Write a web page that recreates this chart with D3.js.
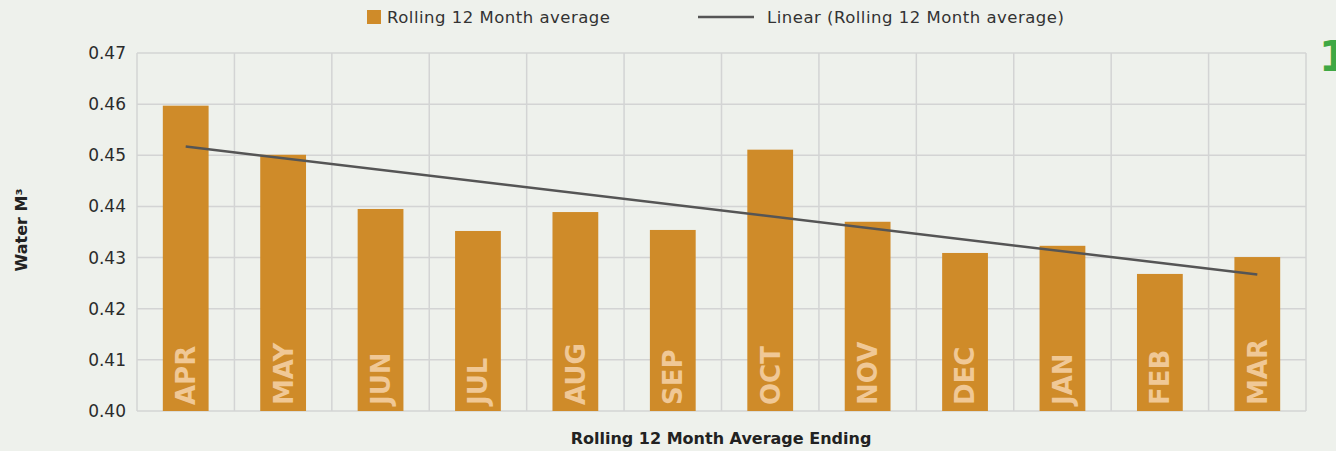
<!DOCTYPE html>
<html>
<head>
<meta charset="utf-8">
<script src="https://cdn.jsdelivr.net/npm/d3@7"></script>
<style>
  body { margin: 0; background: #eef1ec; }
  svg { display: block; font-family: "DejaVu Sans", sans-serif; }
</style>
</head>
<body>
<div id="chart"></div>
<script>
// data
var months = ["APR", "MAY", "JUN", "JUL", "AUG", "SEP", "OCT", "NOV", "DEC", "JAN", "FEB", "MAR"];
var rolling = [0.4597, 0.4501, 0.4395, 0.4352, 0.4389, 0.4354, 0.4511, 0.4370, 0.4309, 0.4323, 0.4268, 0.4301];
// linear trend as drawn in the original (first and last month)
var trendEnds = [0.4517, 0.4267];
var yTicks = [0.40, 0.41, 0.42, 0.43, 0.44, 0.45, 0.46, 0.47];

var w = 1336, h = 451;
var plotL = 137, plotR = 1306, plotT = 53, plotB = 411;

var svg = d3.select('#chart').append('svg')
  .attr('width', w)
  .attr('height', h);

svg.append('rect').attr('width', w).attr('height', h).attr('fill', '#eef1ec');

var x = d3.scaleBand().domain(months).range([plotL, plotR]).paddingInner(0.53).paddingOuter(0.265);
var xg = d3.scaleBand().domain(months).range([plotL, plotR]);
var y = d3.scaleLinear().domain([0.40, 0.47]).range([plotB, plotT]);

// grid
svg.append('g').selectAll('line')
  .data(yTicks).enter().append('line')
  .attr('x1', plotL).attr('x2', plotR)
  .attr('y1', function(d) { return y(d); })
  .attr('y2', function(d) { return y(d); })
  .style('stroke', '#d3d4d4').style('stroke-width', 1.5);

var vx = months.map(function(m) { return xg(m); }).concat([plotR]);
svg.append('g').selectAll('line')
  .data(vx).enter().append('line')
  .attr('x1', function(d) { return d; }).attr('x2', function(d) { return d; })
  .attr('y1', plotT).attr('y2', plotB)
  .style('stroke', '#d3d4d4').style('stroke-width', 1.5);

// y axis labels
var yAxis = d3.axisLeft(y).tickValues(yTicks).tickFormat(d3.format('.2f')).tickSize(0).tickPadding(11);
var ya = svg.append('g').attr('transform', 'translate(' + plotL + ',0)').call(yAxis);
ya.select('.domain').remove();
ya.selectAll('text').style('font-size', '17px').style('fill', '#2b2b2b')
  .style('font-family', '"DejaVu Sans", sans-serif');

// bars
svg.append('g').selectAll('rect')
  .data(rolling).enter().append('rect')
  .attr('x', function(d, i) { return x(months[i]); })
  .attr('width', x.bandwidth())
  .attr('y', function(d) { return y(d); })
  .attr('height', function(d) { return plotB - y(d); })
  .style('fill', '#cf8b29');

// month labels inside bars
svg.append('g').selectAll('text')
  .data(months).enter().append('text')
  .attr('transform', function(d) {
    return 'translate(' + (x(d) + x.bandwidth() / 2) + ',' + (plotB - 6) + ') rotate(-90)';
  })
  .attr('dy', '0.36em')
  .style('font-size', '26px').style('font-weight', 'bold')
  .style('fill', '#f0c896')
  .text(function(d) { return d; });

// linear trend line
var trend = [0, months.length - 1].map(function(i, k) {
  return [x(months[i]) + x.bandwidth() / 2, y(trendEnds[k])];
});
svg.append('path')
  .attr('d', d3.line()(trend))
  .style('fill', 'none').style('stroke', '#555555').style('stroke-width', 2.5);

// legend
svg.append('rect').attr('x', 367).attr('y', 10).attr('width', 14).attr('height', 14).style('fill', '#cf8b29');
svg.append('text').attr('x', 387).attr('y', 23).style('font-size', '16.5px').style('fill', '#333')
  .style('letter-spacing', '0.5px')
  .text('Rolling 12 Month average');
svg.append('line').attr('x1', 698).attr('x2', 754).attr('y1', 17).attr('y2', 17)
  .style('stroke', '#555555').style('stroke-width', 2.5);
svg.append('text').attr('x', 767).attr('y', 23).style('font-size', '16.5px').style('fill', '#333')
  .style('letter-spacing', '0.5px')
  .text('Linear (Rolling 12 Month average)');

// axis titles
svg.append('text')
  .attr('transform', 'translate(27,230) rotate(-90)')
  .attr('text-anchor', 'middle')
  .style('font-size', '16px').style('font-weight', 'bold').style('fill', '#222')
  .text('Water M³');
svg.append('text')
  .attr('x', 721).attr('y', 444)
  .attr('text-anchor', 'middle')
  .style('font-size', '16px').style('font-weight', 'bold').style('fill', '#222')
  .text('Rolling 12 Month Average Ending');

// page number cut off at the edge
svg.append('text').attr('x', 1319).attr('y', 71)
  .style('font-size', '42px').style('font-weight', 'bold').style('fill', '#3fa844')
  .text('1');
</script>
</body>
</html>
